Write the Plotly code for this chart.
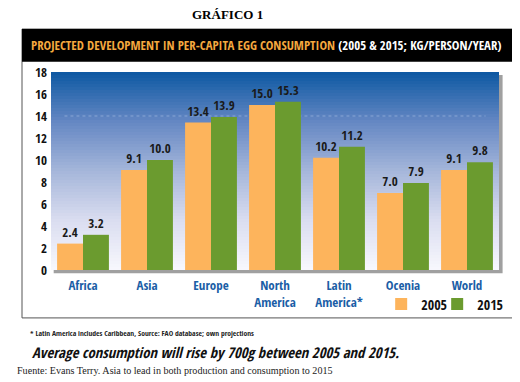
import plotly.graph_objects as go

categories = ["Africa", "Asia", "Europe", "North<br>America", "Latin<br>America*", "Ocenia", "World"]
values_2005 = [2.4, 9.1, 13.4, 15.0, 10.2, 7.0, 9.1]
values_2015 = [3.2, 10.0, 13.9, 15.3, 11.2, 7.9, 9.8]
y_ticks = [0, 2, 4, 6, 8, 10, 12, 14, 16, 18]

COND = "Open Sans Condensed"
ORANGE = "#FDB45C"
GREEN = "#6B9B2F"

fig = go.Figure()
fig.add_trace(go.Bar(
    x=categories, y=values_2005, name="2005", marker_color=ORANGE,
    marker_line_width=0, legend="legend",
    text=[f"{v:.1f}" for v in values_2005], textposition="outside", constraintext="none",
    textfont=dict(family=COND, size=13, color="#1a1a1a", weight="bold"),
    cliponaxis=False,
))
fig.add_trace(go.Bar(
    x=categories, y=values_2015, name="2015", marker_color=GREEN,
    marker_line_width=0, legend="legend2",
    text=[f"{v:.1f}" for v in values_2015], textposition="outside", constraintext="none",
    textfont=dict(family=COND, size=13, color="#1a1a1a", weight="bold"),
    cliponaxis=False,
))

shapes = []
# outer box
shapes.append(dict(type="rect", xref="paper", yref="paper", x0=-0.0647, x1=1.0315, y0=-0.242, y1=1.217,
                   line=dict(color="#555555", width=1), fillcolor="white", layer="below"))
# header band
shapes.append(dict(type="rect", xref="paper", yref="paper", x0=-0.0647, x1=1.0315, y0=1.052, y1=1.217,
                   line=dict(width=0), fillcolor="black", layer="below"))
# drop shadow
shapes.append(dict(type="rect", xref="paper", yref="paper", x0=0.006, x1=1.008, y0=-0.016, y1=0.985,
                   line=dict(width=0), fillcolor="rgba(120,120,120,0.7)", layer="below"))
# gradient background
stops = [(0.0, (248, 248, 253)), (0.25, (218, 221, 240)), (0.5, (165, 182, 218)),
         (0.75, (100, 135, 195)), (1.0, (12, 88, 162))]
def interp(t):
    for (a, ca), (b, cb) in zip(stops[:-1], stops[1:]):
        if a <= t <= b:
            f = (t - a) / (b - a)
            return tuple(int(round(ca[i] + f * (cb[i] - ca[i]))) for i in range(3))
    return stops[-1][1]
N = 66
for i in range(N):
    t0 = i / N
    t1 = (i + 1) / N
    c = interp((t0 + t1) / 2)
    shapes.append(dict(type="rect", xref="paper", yref="paper", x0=0, x1=1, y0=t0, y1=min(t1 + 0.002, 1),
                       line=dict(width=0), fillcolor=f"rgb({c[0]},{c[1]},{c[2]})", layer="below"))
# faint dotted guide line
shapes.append(dict(type="line", xref="paper", yref="y", x0=0.03, x1=0.97, y0=14, y1=14,
                   line=dict(color="rgba(200,212,240,0.45)", width=1, dash="dot"), layer="below"))

annotations = [
    dict(text="<b>GRÁFICO 1</b>", xref="paper", yref="paper", x=0.395, y=1.288, yanchor="middle", showarrow=False,
         font=dict(family="Liberation Serif, Times New Roman, serif", size=13, color="black")),
    dict(text="<span style='color:#F5A93F'>PROJECTED DEVELOPMENT IN PER-CAPITA EGG CONSUMPTION</span> "
              "<span style='color:white'>(2005 &amp; 2015; KG/PERSON/YEAR)</span>",
         xref="paper", yref="paper", x=-0.049, y=1.137, xanchor="left", yanchor="middle", showarrow=False,
         font=dict(family=COND, size=12.8, weight="bold")),
    dict(text="* Latin America includes Caribbean, Source: FAO database; own projections",
         xref="paper", yref="paper", x=-0.051, y=-0.318, xanchor="left", yanchor="middle", showarrow=False,
         font=dict(family=COND, size=7.6, color="#222222", weight="bold")),
    dict(text="<b><i>Average consumption will rise by 700g between 2005 and 2015.</i></b>",
         xref="paper", yref="paper", x=-0.047, y=-0.415, xanchor="left", yanchor="middle", showarrow=False,
         font=dict(family=COND, size=14.7, color="#111111")),
    dict(text="Fuente: Evans Terry. Asia to lead in both production and consumption to 2015",
         xref="paper", yref="paper", x=-0.081, y=-0.51, xanchor="left", yanchor="middle", showarrow=False,
         font=dict(family="Liberation Serif, Times New Roman, serif", size=10.1, color="#222222")),
]

legend_common = dict(orientation="h", yanchor="middle", xanchor="left", bgcolor="rgba(0,0,0,0)",
                     font=dict(family=COND, size=14, color="#111111", weight="bold"), itemwidth=30)

fig.update_layout(
    width=512, height=374,
    margin=dict(l=43, r=21, t=64, b=112, autoexpand=False),
    paper_bgcolor="white", plot_bgcolor="rgba(0,0,0,0)",
    barmode="group", bargap=0.19, bargroupgap=0,
    shapes=shapes, annotations=annotations,
    showlegend=True,
    legend=dict(x=0.737, y=-0.174, **legend_common),
    legend2=dict(x=0.862, y=-0.174, **legend_common),
    xaxis=dict(showline=False, ticks="", tickangle=0, automargin=False, ticklabelstandoff=6,
               tickfont=dict(family=COND, size=13, color="#1B5EA6", weight="bold"),
               fixedrange=True),
    yaxis=dict(range=[0, 18], tickvals=y_ticks, showline=False, zeroline=False, ticks="", automargin=False,
               tickfont=dict(family=COND, size=13, color="#111111", weight="bold"),
               showgrid=False, ticklabelstandoff=3),
)

fig.write_html("out.html")
